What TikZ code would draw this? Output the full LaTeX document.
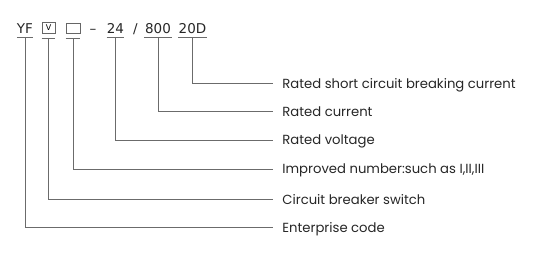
\documentclass[tikz,border=0pt]{standalone}
\usepackage{fontspec}
\setmainfont{Poppins}
\newfontfamily\hdrfont{DejaVu Sans}
\begin{document}
\begin{tikzpicture}[x=1pt,y=-1pt,
  conn/.style={draw=black!58, line width=0.9pt},
  desc/.style={anchor=west, inner xsep=9.5pt, inner ysep=0pt, text height=9.6pt, text depth=0pt,
    font=\fontsize{13.2}{16}\selectfont, text=black!85},
  hdr/.style={anchor=base, inner sep=0pt, text height=9pt, text depth=4.7pt,
    font=\hdrfont\fontsize{13.5}{15}\selectfont, text=black!85},
  ubox/.style={draw=black!60, line width=0.8pt, minimum width=13pt, minimum height=10.7pt, inner sep=0pt}]
\useasboundingbox (0,0) rectangle (555,255);
% header
\node[hdr, minimum width=14pt] (yf) at (25,33) {YF};
\node[ubox] (vb) at (48.5,28) {\hdrfont\fontsize{8}{8}\selectfont V};
\node[ubox, minimum width=14pt] (eb) at (73,28.3) {};
\node[hdr] (dash) at (93,33) {–};
\node[hdr, minimum width=17pt] (n24) at (115.5,33) {24};
\node[hdr] (slash) at (135.5,33) {/};
\node[hdr, minimum width=28pt] (n800) at (158,33) {800};
\node[hdr, minimum width=28pt] (n20d) at (192.5,33) {20D};
% descriptions
\node[desc] (l1) at (272.7,83.3) {Rated short circuit breaking current};
\node[desc] (l2) at (272.7,111.7) {Rated current};
\node[desc] (l3) at (272.7,140) {Rated voltage};
\node[desc] (l4) at (272.7,169) {Improved number:such as I,II,III};
\node[desc] (l5) at (272.7,199.3) {Circuit breaker switch};
\node[desc] (l6) at (272.7,227.7) {Enterprise code};
% connectors
\draw[conn] (n20d.south west) -- (n20d.south east) (n20d.south) |- (l1.west);
\draw[conn] (n800.south west) -- (n800.south east) (n800.south) |- (l2.west);
\draw[conn] (n24.south west) -- (n24.south east) (n24.south) |- (l3.west);
\draw[conn] ([yshift=-4.4pt]eb.south west) -- ([yshift=-4.4pt]eb.south east) ([yshift=-4.4pt]eb.south) |- (l4.west);
\draw[conn] ([yshift=-4.7pt]vb.south west) -- ([yshift=-4.7pt]vb.south east) ([yshift=-4.7pt]vb.south) |- (l5.west);
\draw[conn] (yf.south west) -- (yf.south east) (yf.south) |- (l6.west);
\end{tikzpicture}
\end{document}
